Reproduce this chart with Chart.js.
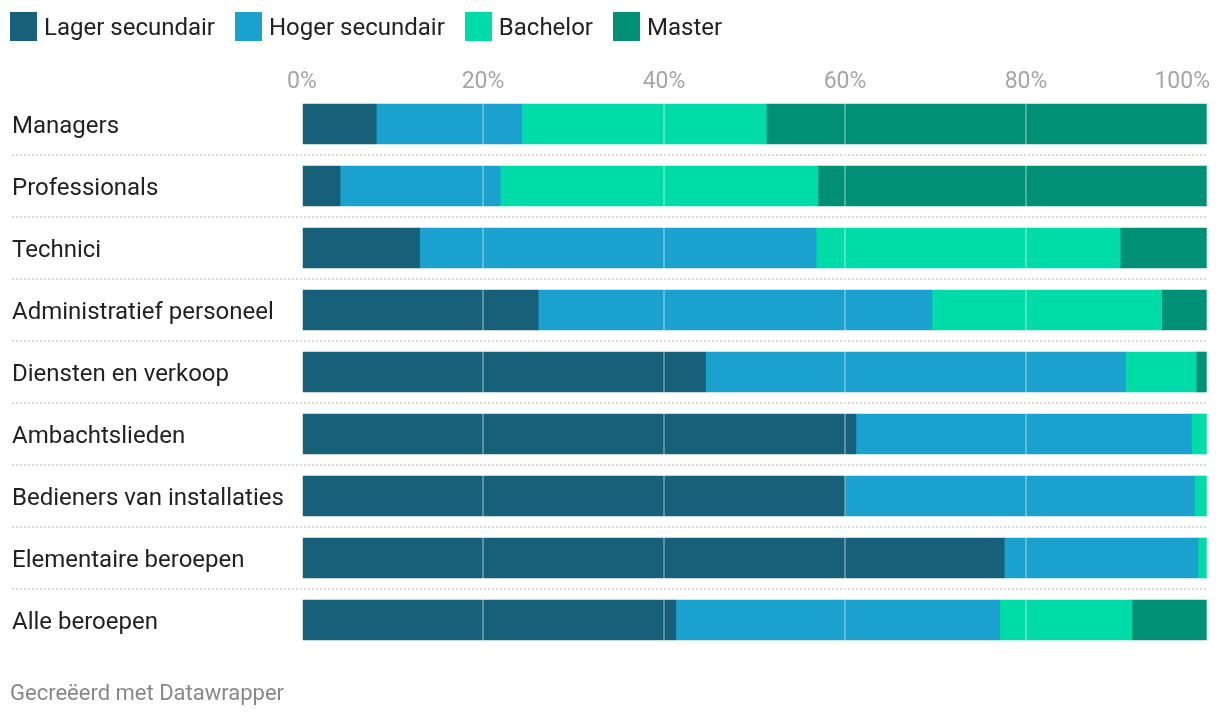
<!DOCTYPE html>
<html>
<head>
<meta charset="utf-8">
<script src="https://cdn.jsdelivr.net/npm/chart.js@4/dist/chart.umd.min.js"></script>
<style>
    body { margin: 0; background: #fff; font-family: Roboto, sans-serif; }
    #wrap { position: relative; width: 1220px; height: 718px; }
    #chart { position: absolute; left: 0; top: 0; }
    #legend { position: absolute; left: 10px; top: 12px; display: flex; align-items: center; }
    .item { display: flex; align-items: center; margin-right: 20px; font-size: 24px; color: #222; }
    .box { width: 27px; height: 29px; margin-right: 7px; }
    #footer { position: absolute; left: 10px; top: 680px; font-size: 22px; color: #888; }
</style>
</head>
<body>
<div id="wrap">
    <canvas id="chart" width="1220" height="718"></canvas>
    <div id="legend"></div>
    <div id="footer">Gecreëerd met Datawrapper</div>
</div>
<script>
// Categories and series (percent of each occupation group)
const categories = [
    'Managers', 'Professionals', 'Technici', 'Administratief personeel',
    'Diensten en verkoop', 'Ambachtslieden', 'Bedieners van installaties',
    'Elementaire beroepen', 'Alle beroepen'
];
const seriesNames = ['Lager secundair', 'Hoger secundair', 'Bachelor', 'Master'];
const lagerSecundair = [8.2, 4.2, 13.0, 26.1, 44.6, 61.2, 60.0, 77.6, 41.3];
const hogerSecundair = [16.1, 17.7, 43.8, 43.5, 46.4, 37.1, 38.6, 21.4, 35.8];
const bachelor = [27.0, 35.1, 33.6, 25.4, 7.8, 1.7, 1.4, 1.0, 14.6];
const master = [48.7, 43.0, 9.6, 5.0, 1.2, 0, 0, 0, 8.3];
const tickValues = [0, 20, 40, 60, 80, 100];

const colors = ['#176079', '#1ba1ce', '#00dca7', '#009075'];
const seriesData = [lagerSecundair, hogerSecundair, bachelor, master];

// HTML legend
const legend = document.getElementById('legend');
seriesNames.forEach((name, i) => {
    const item = document.createElement('div');
    item.className = 'item';
    item.innerHTML = '<span class="box" style="background:' + colors[i] + '"></span>' + name;
    legend.appendChild(item);
});

// Dotted separators between rows
const separators = {
    id: 'separators',
    beforeDatasetsDraw(chart) {
        const ctx = chart.ctx;
        const y = chart.scales.y;
        ctx.save();
        ctx.strokeStyle = '#d9d9d9';
        ctx.lineWidth = 2;
        ctx.setLineDash([2, 2]);
        for (let i = 0; i < categories.length - 1; i++) {
            const yy = Math.round((y.getPixelForValue(i) + y.getPixelForValue(i + 1)) / 2);
            ctx.beginPath();
            ctx.moveTo(12, yy);
            ctx.lineTo(chart.chartArea.right, yy);
            ctx.stroke();
        }
        ctx.restore();
    }
};

// Percent labels above the plot, last one right aligned
const topTicks = {
    id: 'topTicks',
    afterDraw(chart) {
        const ctx = chart.ctx;
        const x = chart.scales.x;
        ctx.save();
        ctx.font = '23px Roboto';
        ctx.fillStyle = '#a6a6a6';
        ctx.textBaseline = 'middle';
        tickValues.forEach((v, i) => {
            const px = x.getPixelForValue(v);
            if (i === tickValues.length - 1) {
                ctx.textAlign = 'right';
                ctx.fillText(v + '%', px + 3, 82);
            } else {
                ctx.textAlign = 'center';
                ctx.fillText(v + '%', px, 82);
            }
        });
        ctx.restore();
    }
};

new Chart(document.getElementById('chart').getContext('2d'), {
    type: 'bar',
    data: {
        labels: categories,
        datasets: seriesNames.map((name, i) => ({
            label: name,
            data: seriesData[i],
            backgroundColor: colors[i],
            borderWidth: 0,
            barThickness: 40
        }))
    },
    options: {
        indexAxis: 'y',
        responsive: false,
        animation: false,
        layout: {
            padding: { top: 93, bottom: 67, left: 12, right: 13 }
        },
        scales: {
            x: {
                stacked: true,
                min: 0,
                max: 100,
                ticks: { display: false, stepSize: 20 },
                grid: {
                    z: 1,
                    color: 'rgba(255,255,255,0.3)',
                    lineWidth: 2,
                    drawTicks: false
                },
                border: { display: false },
                afterFit(scale) { scale.height = 0; }
            },
            y: {
                stacked: true,
                grid: { display: false },
                border: { display: false },
                ticks: {
                    crossAlign: 'far',
                    padding: 0,
                    labelOffset: 3,
                    color: '#222',
                    font: { family: 'Roboto', size: 24 }
                },
                afterFit(scale) { scale.width = 290; }
            }
        },
        plugins: {
            legend: { display: false },
            tooltip: { enabled: false }
        }
    },
    plugins: [separators, topTicks]
});
</script>
</body>
</html>
